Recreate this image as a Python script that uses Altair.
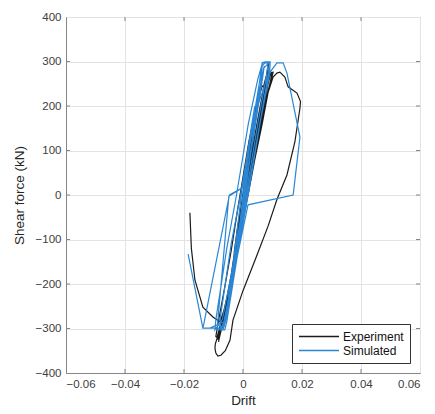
import altair as alt
import pandas as pd

# Experiment (black) path: drift, shear force (kN)
exp_drift = [0.0, 0.002, 0.003, 0.002, 0.0, -0.002, -0.003, -0.002, 0.0, 0.002,
             0.004, 0.005, 0.004, 0.001, -0.002, -0.004, -0.005, -0.004, -0.001, 0.002,
             0.005, 0.007, 0.008, 0.0075, 0.005, 0.001, -0.003, -0.006, -0.007, -0.0065, -0.004, 0.0, 0.004,
             0.006, 0.0075, 0.008, 0.0072, 0.005, 0.0015, -0.0025, -0.0055, -0.0068, -0.0063, -0.0035, 0.0005, 0.0045,
             0.007, 0.0085, 0.0088, 0.008, 0.006, 0.002, -0.002, -0.006, -0.008, -0.0085, -0.008, -0.005, -0.001, 0.003,
             0.0065, 0.0082, 0.0086, 0.0078, 0.0055, 0.0018, -0.002, -0.0058, -0.0078, -0.0083, -0.0075, -0.0045, -0.0005, 0.0035,
             0.0068, 0.0092, 0.0098, 0.0085, 0.0065, 0.004, 0.002, -0.001, -0.004, -0.0072, -0.0088, -0.0092, -0.0085,
             -0.006, -0.004, -0.002, 0.0, 0.002, 0.0045, 0.0065,
             0.008, 0.0095, 0.0102, 0.0098, 0.007, 0.003, -0.001, -0.005, -0.0082, -0.0094,
             -0.0095, -0.0092, -0.0085, -0.0075, -0.006, -0.0044, -0.0034, 0.0, 0.0041, 0.0085,
             0.0115, 0.0149, 0.0176, 0.0193, 0.0195, 0.0183, 0.0153, 0.0142, 0.0125, 0.0115, 0.0102,
             0.008, 0.005, 0.001, -0.003, -0.006, -0.0078, -0.0102, -0.0136, -0.0163, -0.0175, -0.018]
exp_force = [0, 80, 130, 90, 0, -80, -130, -100, -20, 60,
             160, 200, 170, 50, -90, -180, -220, -200, -90, 40,
             170, 240, 265, 255, 170, 20, -140, -260, -290, -280, -200, -50, 110,
             200, 255, 270, 250, 160, 10, -150, -265, -300, -290, -190, -30, 130,
             230, 290, 296, 270, 190, 40, -110, -250, -310, -325, -315, -230, -90, 60,
             200, 265, 280, 255, 170, 30, -120, -260, -315, -330, -305, -200, -60, 80,
             200, 270, 272, 230, 160, 80, 10, -90, -190, -280, -320, -318, -290,
             -200, -125, -40, 40, 120, 200, 245,
             240, 275, 276, 265, 200, 60, -80, -220, -310, -335,
             -345, -355, -362, -360, -350, -326, -281, -215, -146, -70,
             -10, 45, 120, 195, 210, 229, 243, 265, 276, 274, 265,
             220, 120, -20, -160, -250, -285, -274, -252, -191, -120, -40]

# Simulated (blue) path
sim_drift = [0.0, 0.001, 0.002, 0.001, -0.001, -0.002, -0.001, 0.001,
             0.003, 0.004, 0.003, 0.0, -0.002, -0.004, -0.005, -0.004, -0.002, 0.001,
             0.004, 0.006, 0.0065, 0.0075, 0.0092, 0.009, 0.006, 0.002, -0.003, -0.006, -0.0075, -0.0088, -0.0085,
             -0.0048, -0.0005, 0.003, 0.0055, 0.0065, 0.0075, 0.0092, 0.0088, 0.006, 0.002, -0.003, -0.006,
             -0.0075, -0.0112, -0.0136, -0.0133, -0.0046, -0.0002, 0.004, 0.0085, 0.0115, 0.0136, 0.0149,
             0.0193, 0.017, 0.0017, -0.002, -0.0055, -0.0062, -0.0075, -0.0078, -0.004, 0.0, 0.003, 0.006,
             0.007, 0.0085, 0.008, 0.005, 0.001, -0.003, -0.0065, -0.0068, -0.0058, -0.002, 0.0015, 0.0045,
             0.0065, 0.0072, 0.0068, 0.004, 0.0, -0.004, -0.007, -0.0095, -0.0095, -0.0092, -0.0055, -0.0022,
             0.0018, 0.005, 0.0066, 0.0082, 0.0088, 0.0065, 0.003, -0.0005, -0.004, -0.0065,
             -0.0112, -0.0136, -0.0186]
sim_force = [0, 60, 110, 60, -60, -110, -60, 40,
             150, 200, 160, 30, -80, -190, -230, -190, -100, 20,
             170, 250, 290, 297, 297, 270, 170, 20, -180, -280, -303, -303, -280,
             -3, 15, 150, 250, 297, 299, 299, 265, 170, 10, -170, -280,
             -299, -299, -299, -290, 0, 16, 180, 270, 297, 297, 274,
             130, 0, -22, -140, -285, -303, -303, -280, -110, 30, 160, 250,
             285, 295, 270, 160, 0, -170, -290, -303, -280, -120, 40, 180,
             260, 290, 270, 150, -20, -180, -280, -303, -303, -280, -120, 0,
             160, 260, 297, 297, 280, 190, 60, -70, -200, -285,
             -299, -299, -133]

x_ticks = [-0.06, -0.04, -0.02, 0, 0.02, 0.04, 0.06]
y_ticks = [-400, -300, -200, -100, 0, 100, 200, 300, 400]

df = pd.concat([
    pd.DataFrame({"Drift": exp_drift, "Force": exp_force,
                  "series": "Experiment", "step": range(len(exp_drift))}),
    pd.DataFrame({"Drift": sim_drift, "Force": sim_force,
                  "series": "Simulated", "step": range(len(sim_drift))}),
])
xt = pd.DataFrame({"Drift": x_ticks[1:-1]})
yt = pd.DataFrame({"Force": y_ticks[1:-1]})

FONT = "Liberation Sans"
FRAME = "#858585"
W, H = 354, 356

xscale = alt.Scale(domain=[-0.06, 0.06], nice=False, zero=False)
yscale = alt.Scale(domain=[-400, 400], nice=False)

lines = alt.Chart(df).mark_line(strokeWidth=1.2, clip=True).encode(
    x=alt.X("Drift:Q", scale=xscale,
            axis=alt.Axis(values=x_ticks, title="Drift", labelExpr="datum.value == 0 ? '0' : format(datum.value, '.2f')")),
    y=alt.Y("Force:Q", scale=yscale,
            axis=alt.Axis(values=y_ticks, title="Shear force (kN)")),
    color=alt.Color("series:N",
                    scale=alt.Scale(domain=["Experiment", "Simulated"], range=["#1a1a1a", "#2a86d4"]),
                    legend=alt.Legend(title=None, orient="bottom-right", offset=10,
                                      symbolType="stroke", symbolSize=1600, symbolStrokeWidth=1.3,
                                      clipHeight=13,
                                      strokeColor="#333333", fillColor="white", padding=6,
                                      labelFontSize=12, labelFont=FONT, labelColor="#111111",
                                      labelOffset=3, rowPadding=1, cornerRadius=0)),
    detail="series:N",
    order="step:Q",
)

tick_bottom = alt.Chart(xt).mark_rule(color=FRAME, strokeWidth=1).encode(
    x=alt.X("Drift:Q", scale=xscale), y=alt.value(H), y2=alt.value(H - 4))
tick_top = alt.Chart(xt).mark_rule(color=FRAME, strokeWidth=1).encode(
    x=alt.X("Drift:Q", scale=xscale), y=alt.value(0), y2=alt.value(4))
tick_left = alt.Chart(yt).mark_rule(color=FRAME, strokeWidth=1).encode(
    y=alt.Y("Force:Q", scale=yscale), x=alt.value(0), x2=alt.value(4))
tick_right = alt.Chart(yt).mark_rule(color=FRAME, strokeWidth=1).encode(
    y=alt.Y("Force:Q", scale=yscale), x=alt.value(W), x2=alt.value(W - 4))

chart = alt.layer(tick_bottom, tick_top, tick_left, tick_right, lines).properties(
    width=W, height=H,
    padding={"left": 66, "top": 17, "right": 15, "bottom": 41},
    autosize=alt.AutoSizeParams(type="none"),
).configure_view(
    stroke=FRAME, strokeWidth=1
).configure_axis(
    grid=True, gridColor="#e3e3e3", gridWidth=1,
    domain=True, domainColor=FRAME, domainWidth=1,
    ticks=False,
    labelFont=FONT, labelFontSize=11.5, labelColor="#404040", labelPadding=5,
    titleFont=FONT, titleFontSize=13.5, titleFontWeight="normal", titleColor="#262626",
).configure_axisX(
    labelPadding=5, titlePadding=4
).configure_axisY(
    titlePadding=9
)

chart.save("out.html", embed_options={"renderer": "svg", "actions": False})
